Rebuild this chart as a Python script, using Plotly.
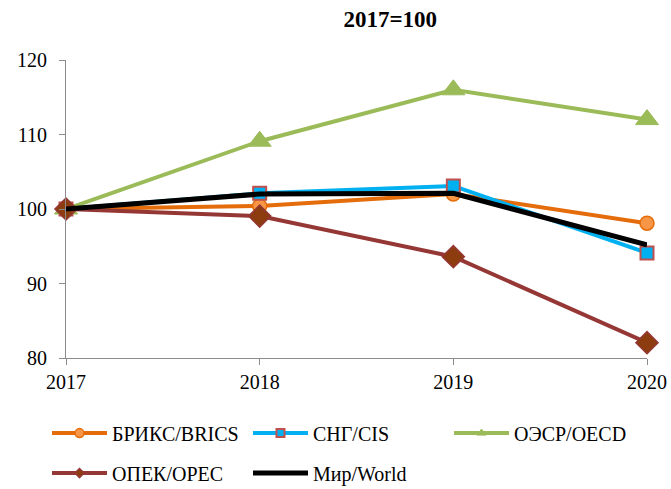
import plotly.graph_objects as go

years = [2017, 2018, 2019, 2020]
brics = [100, 100.4, 102.0, 98.1]
cis = [100, 102.1, 103.1, 94.1]
oecd = [100, 109.1, 116.0, 112.0]
opec = [100, 99.05, 93.6, 82.05]
world = [100, 102.0, 102.1, 95.2]

names = ["БРИКС/BRICS", "СНГ/CIS", "ОЭСР/OECD", "ОПЕК/OPEC", "Мир/World"]

FONT = "Liberation Serif, Times New Roman, serif"

styles = [
    dict(name=names[0], y=brics, line=dict(color="#E46C0A", width=4),
         marker=dict(symbol="circle", color="#F79646", line=dict(color="#E46C0A", width=1.5)),
         size=14, lsize=9, legend="legend", mode="lines+markers"),
    dict(name=names[1], y=cis, line=dict(color="#00B0F0", width=4),
         marker=dict(symbol="square", color="#00B0F0", line=dict(color="#C0504D", width=2)),
         size=13, lsize=8, legend="legend", mode="lines+markers"),
    dict(name=names[2], y=oecd, line=dict(color="#9BBB59", width=4),
         marker=dict(symbol="triangle-up", color="#9BBB59", line=dict(color="#9BBB59", width=1)),
         size=20, lsize=8, legend="legend", mode="lines+markers"),
    dict(name=names[3], y=opec, line=dict(color="#953735", width=4),
         marker=dict(symbol="diamond", color="#8C3C0F", line=dict(color="#953735", width=1.5)),
         size=17, lsize=7, legend="legend2", mode="lines+markers"),
    dict(name=names[4], y=world, line=dict(color="#000000", width=5),
         marker=None, size=None, lsize=None, legend="legend2", mode="lines"),
]

fig = go.Figure()
for s in styles:
    mk = None
    if s["marker"] is not None:
        mk = dict(s["marker"], size=s["size"])
    fig.add_trace(go.Scatter(x=years, y=s["y"], name=s["name"], mode=s["mode"],
                             line=s["line"], marker=mk, showlegend=False,
                             cliponaxis=False))
for s in styles:
    mk = None
    if s["marker"] is not None:
        mk = dict(s["marker"], size=s["lsize"])
    fig.add_trace(go.Scatter(x=[None], y=[None], name=s["name"], mode=s["mode"],
                             line=s["line"], marker=mk, showlegend=True,
                             legend=s["legend"]))

axis_common = dict(showgrid=False, zeroline=False, showline=True, linecolor="#8c8c8c",
                   linewidth=1, ticks="outside", ticklen=6, tickcolor="#8c8c8c",
                   tickfont=dict(family=FONT, size=20, color="#000000"))

legend_common = dict(orientation="h", xanchor="left", yanchor="middle",
                     entrywidth=131, entrywidthmode="pixels", itemwidth=55,
                     font=dict(family=FONT, size=20, color="#000000"),
                     bgcolor="rgba(0,0,0,0)", tracegroupgap=0)

fig.update_layout(
    width=671, height=489,
    margin=dict(l=66, r=24, t=60, b=131, autoexpand=False),
    paper_bgcolor="white", plot_bgcolor="white",
    font=dict(family=FONT, size=20, color="#000000"),
    title=dict(text="<b>2017=100</b>", x=0.558, xref="paper", xanchor="center",
               y=0.962, yref="container", yanchor="middle",
               font=dict(family=FONT, size=23, color="#000000")),
    xaxis=dict(range=[2017, 2020], tickvals=years, ticktext=[str(y) for y in years],
               ticklabelstandoff=0, **axis_common),
    yaxis=dict(range=[80, 120], dtick=10, ticklabelstandoff=8, **axis_common),
    legend=dict(x=-0.0327, y=-0.252, **legend_common),
    legend2=dict(x=-0.0327, y=-0.386, **legend_common),
)

fig.write_html("out.html",
               config={"displayModeBar": False},
               post_script="document.body.style.margin='0px';"
                           "document.body.style.overflow='hidden';")
